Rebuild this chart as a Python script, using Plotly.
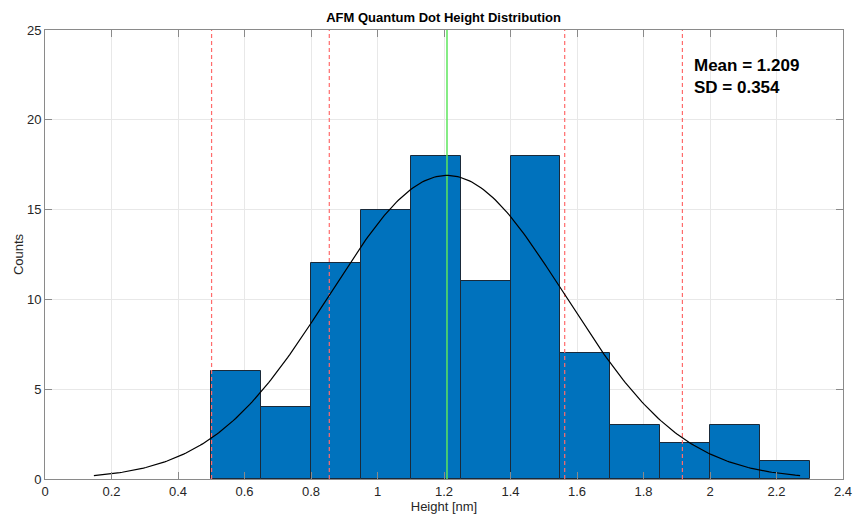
import numpy as np
import plotly.graph_objects as go

# Histogram data
bin_edges = [0.5, 0.65, 0.8, 0.95, 1.1, 1.25, 1.4, 1.55, 1.7, 1.85, 2.0, 2.15, 2.3]
counts = [6, 4, 12, 15, 18, 11, 18, 7, 3, 2, 3, 1]
mean_h = 1.209
sd_h = 0.354
n_total = sum(counts)
bin_w = 0.15

x_ticks = [0, 0.2, 0.4, 0.6, 0.8, 1, 1.2, 1.4, 1.6, 1.8, 2, 2.2, 2.4]
x_ticklabels = ["0", "0.2", "0.4", "0.6", "0.8", "1", "1.2", "1.4", "1.6", "1.8", "2", "2.2", "2.4"]
y_ticks = [0, 5, 10, 15, 20, 25]

centers = [(a + b) / 2 for a, b in zip(bin_edges[:-1], bin_edges[1:])]
widths = [b - a for a, b in zip(bin_edges[:-1], bin_edges[1:])]

# fitted normal curve (mean +/- 3 SD), scaled to counts
xs = np.linspace(mean_h - 3 * sd_h, mean_h + 3 * sd_h, 300)
ys = n_total * bin_w / (sd_h * np.sqrt(2 * np.pi)) * np.exp(-0.5 * ((xs - mean_h) / sd_h) ** 2)

FONT = "Liberation Sans, Arial, Helvetica, sans-serif"
fig = go.Figure()
fig.add_trace(go.Bar(x=centers, y=counts, width=widths,
                     marker=dict(color="#0072BD", line=dict(color="#1a2a3a", width=1)),
                     showlegend=False, hoverinfo="x+y"))

for k in [-2, -1, 1, 2]:
    xv = mean_h + k * sd_h
    fig.add_trace(go.Scatter(x=[xv, xv], y=[0, 25], mode="lines",
                             line=dict(color="#FF6B6B", width=1.2, dash="4px,3px"),
                             showlegend=False, hoverinfo="skip"))
fig.add_trace(go.Scatter(x=[mean_h, mean_h], y=[0, 25], mode="lines",
                         line=dict(color="#5CE65C", width=1.5),
                         showlegend=False, hoverinfo="skip"))
fig.add_trace(go.Scatter(x=xs, y=ys, mode="lines",
                         line=dict(color="black", width=1.2),
                         showlegend=False, hoverinfo="skip"))

axis_common = dict(showline=True, linecolor="#8a8a8a", linewidth=1, mirror="ticks",
                   ticks="inside", ticklen=7, tickcolor="#8a8a8a",
                   showgrid=True, gridcolor="#e8e8e8", gridwidth=1, zeroline=False,
                   automargin=False,
                   tickfont=dict(family=FONT, size=13, color="#262626"))

fig.update_layout(
    width=853, height=519,
    margin=dict(l=45, r=10, t=30, b=40, autoexpand=False),
    plot_bgcolor="white", paper_bgcolor="white",
    title=dict(text="<b>AFM Quantum Dot Height Distribution</b>", x=0.52, xanchor="center",
               y=0.967, yanchor="middle", font=dict(family=FONT, size=13, color="black")),
    xaxis=dict(range=[0, 2.4], tickvals=x_ticks, ticktext=x_ticklabels,
               title=dict(text="Height [nm]", font=dict(family=FONT, size=13, color="#262626"), standoff=3),
               **axis_common),
    yaxis=dict(range=[0, 25], tickvals=y_ticks,
               title=dict(text="Counts", font=dict(family=FONT, size=13, color="#262626"), standoff=0),
               **axis_common),
    bargap=0,
    annotations=[dict(x=1.946, y=23.65, xref="x", yref="y", xanchor="left", yanchor="top",
                      text="<b>Mean = %.3f<br>SD = %.3f</b>" % (mean_h, sd_h), showarrow=False,
                      align="left", font=dict(family=FONT, size=17, color="black"))],
)

fig.write_html("out.html")
